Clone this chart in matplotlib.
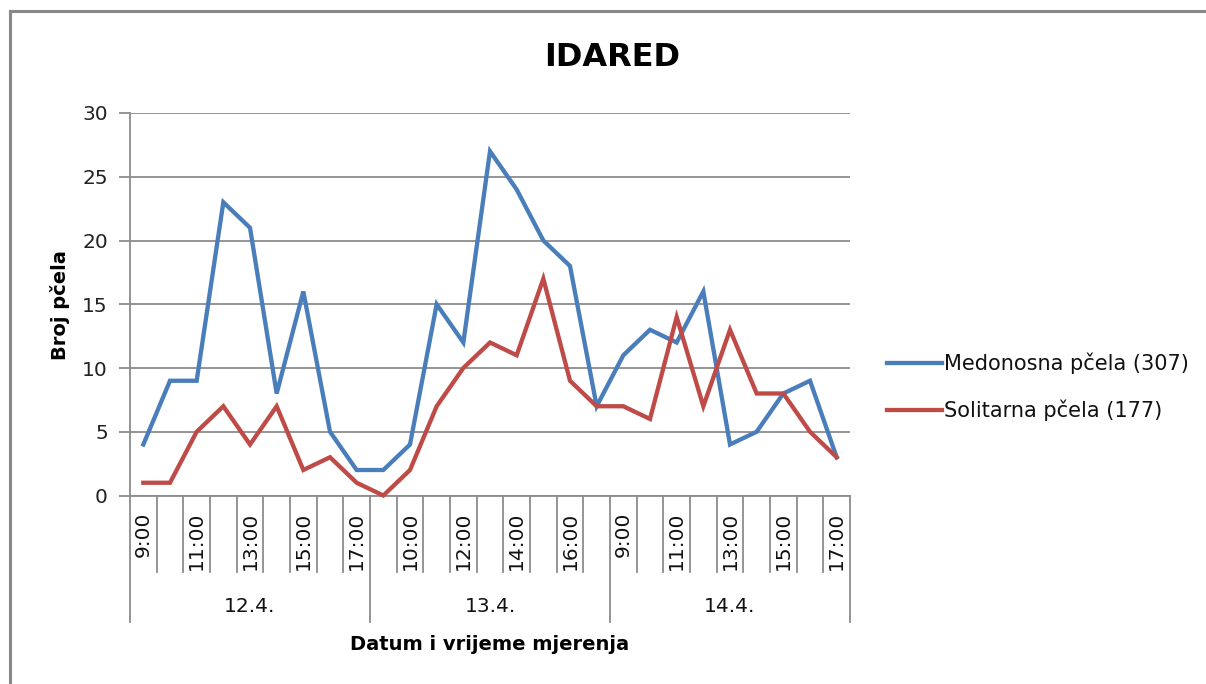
import matplotlib
matplotlib.use("Agg")
import matplotlib.pyplot as plt
import matplotlib.transforms as mtransforms
from matplotlib.lines import Line2D

days = ["12.4.", "13.4.", "14.4."]
hours = ["9:00", "10:00", "11:00", "12:00", "13:00", "14:00", "15:00", "16:00", "17:00"]
medonosna = [4, 9, 9, 23, 21, 8, 16, 5, 2,
             2, 4, 15, 12, 27, 24, 20, 18, 7,
             11, 13, 12, 16, 4, 5, 8, 9, 3]
solitarna = [1, 1, 5, 7, 4, 7, 2, 3, 1,
             0, 2, 7, 10, 12, 11, 17, 9, 7,
             7, 6, 14, 7, 13, 8, 8, 5, 3]
series_names = ["Medonosna pčela (307)", "Solitarna pčela (177)"]
title = "IDARED"
ylabel = "Broj pčela"
xlabel = "Datum i vrijeme mjerenja"

categories = [h for d in days for h in hours]
n = len(categories)
x = list(range(n))

BLUE = "#4A7EBB"
RED = "#BE4B48"
GRID = "#8C8C8C"

plt.rcParams["font.family"] = ["DejaVu Sans"]

fig = plt.figure(figsize=(12.06, 6.84), dpi=100)
W, H = 1206, 684
ax = fig.add_axes([130 / W, 1 - 495.5 / H, 720 / W, (495.5 - 113) / H])

ax.plot(x, medonosna, color=BLUE, lw=3.1, solid_joinstyle="miter", clip_on=False, zorder=3)
ax.plot(x, solitarna, color=RED, lw=3.1, solid_joinstyle="miter", clip_on=False, zorder=3)

ax.set_xlim(-0.5, n - 0.5)
ax.set_ylim(0, 30)
ax.set_yticks(range(0, 31, 5))
ax.yaxis.grid(True, color=GRID, lw=1.3)
ax.set_axisbelow(True)
for s in ["top", "right"]:
    ax.spines[s].set_visible(False)
ax.spines["left"].set_color(GRID)
ax.spines["bottom"].set_color(GRID)
ax.spines["left"].set_linewidth(1.3)
ax.spines["bottom"].set_linewidth(1.3)
ax.tick_params(axis="y", length=8, width=1.3, color=GRID, labelsize=14.5, pad=8, labelcolor="#222222")
ax.set_xticks([])

# category labels (every second one shown)
trans = mtransforms.blended_transform_factory(ax.transData, ax.transAxes)
ah = 495.5 - 113
for i, lab in enumerate(categories):
    if i % 2 == 0:
        ax.text(i, -16 / ah, lab, rotation=90, ha="center", va="top", fontsize=14.5,
                transform=trans, color="#111111")
# dividers between categories
for k in range(n + 1):
    xb = k - 0.5
    long = (k % len(hours) == 0)
    yend = -126 / ah if long else -76 / ah
    ax.add_line(Line2D([xb, xb], [0, yend], transform=trans, color=GRID, lw=1.3, clip_on=False))
# day labels
for j, d in enumerate(days):
    xc = j * len(hours) + (len(hours) - 1) / 2
    ax.text(xc, -111 / ah, d, ha="center", va="center", fontsize=14.5, transform=trans, color="#111111")

fig.text(490 / W, 1 - 644 / H, xlabel, ha="center", va="center", fontsize=14, fontweight="bold")
fig.text(60 / W, 1 - 305 / H, ylabel, ha="center", va="center", rotation=90, fontsize=14, fontweight="bold")
fig.text(612 / W, 1 - 58 / H, title, ha="center", va="center", fontsize=23, fontweight="bold")

# legend
for y, c, name in [(363, BLUE, series_names[0]), (410, RED, series_names[1])]:
    fig.add_artist(Line2D([887 / W, 942 / W], [1 - y / H, 1 - y / H], color=c, lw=3.1))
    fig.text(944 / W, 1 - y / H, name, ha="left", va="center", fontsize=15, color="#111111")

# chart border
fig.add_artist(Line2D([9.5 / W, 9.5 / W], [0, 1 - 11 / H], color="#888888", lw=2.2))
fig.add_artist(Line2D([9.5 / W, 1], [1 - 11 / H, 1 - 11 / H], color="#888888", lw=2.2))

fig.savefig("out.png", dpi=100)
